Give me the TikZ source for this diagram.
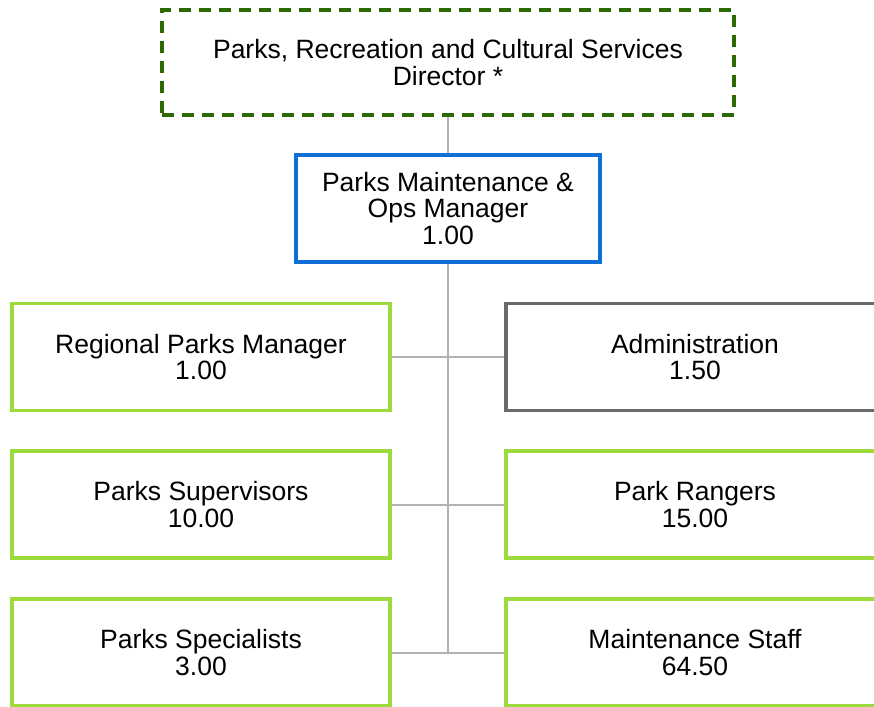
\documentclass[tikz,border=0pt]{standalone}
\usepackage{fontspec}
\setmainfont{Liberation Sans}
\definecolor{dkgreen}{HTML}{2A6A00}
\definecolor{mblue}{HTML}{0F6FD4}
\definecolor{lgreen}{HTML}{9BDB3C}
\definecolor{bgray}{HTML}{6A6A6A}
\definecolor{cgray}{HTML}{B2B2B2}
\begin{document}
\begin{tikzpicture}[x=1pt,y=1pt,
  box/.style={draw, line width=3.6pt, fill=white, align=center, inner sep=0pt,
    font=\fontsize{26.5}{26.5}\selectfont, text=black},
  topbox/.style={box, draw=dkgreen, dash pattern=on 12pt off 8pt, minimum width=572pt, minimum height=105pt},
  mgrbox/.style={box, draw=mblue, minimum width=304pt, minimum height=107pt},
  unitbox/.style={box, draw=lgreen, minimum width=378pt, minimum height=107pt},
  adminbox/.style={box, draw=bgray, minimum width=378pt, minimum height=107pt},
  conn/.style={draw=cgray, line width=2.2pt}]
\useasboundingbox (0,0) rectangle (874,706);
\clip (0,0) rectangle (874,706);
% connectors first
\coordinate (topS) at (448,591);
\coordinate (mgrN) at (448,551);
\coordinate (mgrS) at (448,444);
\coordinate (bot) at (448,53);
\draw[conn] (topS) -- (mgrN);
\draw[conn] (mgrS) -- (bot);
\coordinate (l1) at (390,349);
\coordinate (r1) at (506,349);
\coordinate (l2) at (390,201);
\coordinate (r2) at (506,201);
\coordinate (l3) at (390,53);
\coordinate (r3) at (506,53);
\draw[conn] (l1) -- (r1);
\draw[conn] (l2) -- (r2);
\draw[conn] (l3) -- (r3);
% boxes
\node[topbox] (dir) at (448,643.5) {Parks, Recreation and Cultural Services\\Director *};
\node[mgrbox] (mgr) at (448,497.5) {Parks Maintenance \&\\Ops Manager\\1.00};
\node[unitbox] (rpm) at (201,349) {Regional Parks Manager\\1.00};
\node[adminbox] (adm) at (695,349) {Administration\\1.50};
\node[unitbox] (sup) at (201,201.5) {Parks Supervisors\\10.00};
\node[unitbox] (rng) at (695,201.5) {Park Rangers\\15.00};
\node[unitbox] (spc) at (201,53.5) {Parks Specialists\\3.00};
\node[unitbox] (mst) at (695,53.5) {Maintenance Staff\\64.50};
\end{tikzpicture}
\end{document}
